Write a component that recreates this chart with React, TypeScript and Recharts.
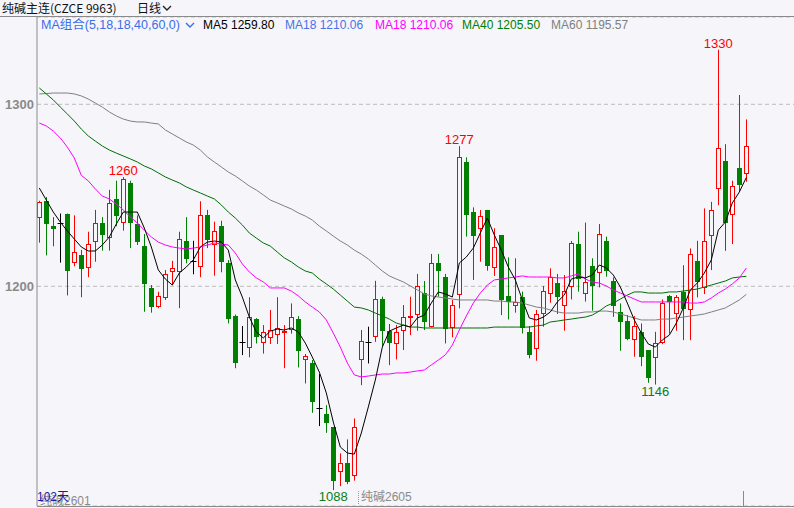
import React from "react";
import {
  ComposedChart,
  Bar,
  Line,
  XAxis,
  YAxis,
  CartesianGrid,
  ReferenceDot,
} from "recharts";

// daily candles, oldest first (102 days)
const opens = [
  1238, 1247, 1233, 1235, 1240, 1213.6, 1217, 1210.8, 1225, 1234.6,
  1227, 1248, 1235.5, 1256.6, 1234, 1222, 1199, 1189.3, 1194, 1208.6,
  1208.6, 1225, 1214, 1211.3, 1239.2, 1223.2, 1233.1, 1212.6, 1183.6, 1169.5,
  1166.4, 1182, 1169.5, 1172.3, 1173.8, 1174.7, 1176.5, 1182, 1159.8, 1157.6,
  1133, 1129.8, 1122.5, 1098.6, 1102.7, 1096.3, 1159.8, 1169.5, 1172.7, 1192.8,
  1175.6, 1168.6, 1176, 1182.9, 1184.8, 1196.1, 1178.4, 1212.6, 1205.3, 1177.8,
  1195.8, 1268.5, 1240.7, 1231.9, 1241.9, 1210.8, 1228.2, 1194.7, 1189.7, 1193.9,
  1175.1, 1165.9, 1185.5, 1196.5, 1201.6, 1189.7, 1200.2, 1223.3, 1196.5, 1211.2,
  1207.7, 1225.1, 1203, 1186, 1181.1, 1170.8, 1175, 1164.9, 1160.9, 1169.5,
  1194.6, 1185.4, 1197, 1187.8, 1214, 1199.4, 1228.1, 1253.8, 1269, 1239.7,
  1265.1, 1262,
];
const highs = [
  1247, 1249, 1238, 1240, 1240, 1239, 1220, 1230, 1242, 1238,
  1253, 1258, 1260, 1258, 1239, 1228.7, 1200.7, 1197, 1209, 1214,
  1230, 1238, 1225, 1246.7, 1242, 1235.5, 1236, 1214.4, 1184.5, 1178.2,
  1194, 1182.5, 1178.7, 1187, 1194, 1178.7, 1190.6, 1183.6, 1162.8, 1159.5,
  1151.8, 1134.7, 1122.5, 1108.2, 1115.9, 1127.4, 1176, 1177.8, 1203, 1194.3,
  1179.3, 1178.7, 1189.7, 1194.3, 1206.8, 1202.9, 1217.8, 1217.8, 1206.8, 1192.5,
  1277, 1270.9, 1243.4, 1241.9, 1242, 1231.9, 1228.2, 1215.9, 1215.4, 1197.1,
  1178.2, 1187, 1200.2, 1209.9, 1206.8, 1206.2, 1224.9, 1230, 1235, 1215.4,
  1234.2, 1227.3, 1204.9, 1190.6, 1184.2, 1183.6, 1179.6, 1164.9, 1175, 1192.8,
  1195.2, 1195.2, 1211.6, 1220.8, 1225, 1242.8, 1246.4, 1330, 1278.1, 1258,
  1305.1, 1291.7,
];
const lows = [
  1224, 1217, 1222, 1213, 1195, 1211, 1194, 1205, 1213.5, 1219.6,
  1219.6, 1233, 1230.6, 1221, 1222.7, 1186, 1185.5, 1188, 1192.5, 1200.7,
  1188, 1212.6, 1206.6, 1205, 1221, 1205.8, 1207.7, 1179.6, 1155, 1162.2,
  1161, 1168.6, 1163, 1168.3, 1168.3, 1155, 1174, 1155.4, 1146.6, 1130.5,
  1123.2, 1119.5, 1088, 1090.2, 1091.3, 1093.2, 1145.7, 1157.6, 1169.5, 1166.8,
  1156.7, 1159.8, 1165, 1173.2, 1175.6, 1176, 1177.4, 1194.3, 1168.6, 1172,
  1187.9, 1227.3, 1203.5, 1213.5, 1208.6, 1205.7, 1184.2, 1181.8, 1185.5, 1174.1,
  1160.4, 1159.1, 1177.8, 1191, 1184.8, 1175.6, 1192.8, 1197.1, 1191.6, 1186.6,
  1199.4, 1205.3, 1183.2, 1164.6, 1170.4, 1161.3, 1156.1, 1147, 1146, 1168.2,
  1174, 1175.6, 1170.4, 1170.4, 1193.9, 1195.7, 1208.9, 1244.6, 1219.5, 1223.2,
  1251.9, 1257.4,
];
const closes = [
  1246.5, 1234, 1231.7, 1235, 1208.6, 1218.7, 1209.6, 1223, 1234.6, 1228.2,
  1245.6, 1238.8, 1258.8, 1234.6, 1224.5, 1201.3, 1188.8, 1194.7, 1206.7, 1210,
  1225.8, 1214.8, 1214, 1239.2, 1225.4, 1230.6, 1213.5, 1181.8, 1157.6, 1169.5,
  1182.9, 1172.3, 1174.7, 1176, 1176.9, 1175.6, 1182.9, 1164.6, 1161.7, 1136.6,
  1133, 1124.7, 1093.2, 1102.7, 1092.6, 1122.5, 1170.1, 1169.5, 1192.8, 1175.6,
  1168.6, 1174.7, 1183.3, 1183.6, 1200, 1180.6, 1212.6, 1208.6, 1176.4, 1189.7,
  1270.9, 1239.2, 1227.6, 1238.8, 1211.2, 1221.8, 1192.5, 1191.6, 1191.6, 1176.9,
  1162.2, 1184.6, 1197.6, 1204.9, 1193.9, 1197.6, 1223.6, 1203.8, 1202.5, 1200.2,
  1228.6, 1208.4, 1189.3, 1180.5, 1170.8, 1178.1, 1161.3, 1149.4, 1168.6, 1190.6,
  1191.5, 1193.9, 1187.3, 1217.7, 1202.5, 1224.8, 1241.9, 1275.8, 1234.6, 1255.1,
  1255.6, 1277,
];

// moving averages as drawn on the chart
const ma5 = [
  1254.0, 1247.4, 1240.8, 1235.3, 1230.4, 1226.0, 1221.6, 1219.4, 1219.4, 1222.7,
  1227.1, 1234.2, 1240.8, 1240.8, 1240.8, 1232.0, 1221.6, 1209.0, 1204.0, 1200.7,
  1207.3, 1210.6, 1214.5, 1221.6, 1224.3, 1224.9, 1224.3, 1219.9, 1203.5, 1194.1,
  1183.1, 1174.9, 1171.6, 1175.4, 1176.5, 1176.0, 1177.1, 1174.9, 1168.8, 1161.1,
  1152.9, 1141.4, 1125.4, 1111.7, 1108.4, 1107.8, 1119.4, 1133.7, 1148.5, 1166.6,
  1175.4, 1177.1, 1178.7, 1177.6, 1182.6, 1184.2, 1190.8, 1196.9, 1195.8, 1194.1,
  1212.8, 1216.1, 1221.0, 1229.3, 1237.5, 1228.2, 1219.9, 1210.6, 1203.5, 1192.5,
  1182.6, 1181.5, 1183.1, 1185.9, 1191.4, 1195.2, 1204.0, 1205.1, 1204.6, 1206.2,
  1211.7, 1210.1, 1206.2, 1199.6, 1190.8, 1181.5, 1174.3, 1168.3, 1166.6, 1170.5,
  1173.2, 1179.8, 1188.1, 1198.0, 1201.8, 1207.3, 1214.5, 1230.9, 1235.3, 1245.8,
  1251.8, 1259.8,
];
const ma18 = [
  1289.7, 1288.1, 1285.3, 1281.5, 1276.5, 1270.5, 1261.0, 1257.9, 1253.5, 1249.6,
  1248.0, 1245.2, 1241.9, 1238.1, 1234.8, 1230.9, 1227.1, 1224.3, 1222.7, 1221.6,
  1221.0, 1220.5, 1221.0, 1221.6, 1222.7, 1223.8, 1223.2, 1222.7, 1218.3, 1212.3,
  1207.9, 1204.6, 1202.4, 1199.1, 1199.1, 1199.1, 1197.4, 1194.7, 1191.4, 1188.6,
  1185.9, 1181.5, 1174.3, 1166.6, 1157.9, 1151.3, 1150.2, 1150.7, 1151.3, 1151.8,
  1151.8, 1152.4, 1152.4, 1152.9, 1153.5, 1154.0, 1156.8, 1159.5, 1162.3, 1167.7,
  1176.0, 1183.7, 1190.8, 1196.3, 1200.7, 1203.5, 1204.0, 1204.6, 1205.1, 1205.7,
  1205.1, 1205.1, 1205.1, 1205.1, 1204.6, 1204.6, 1205.7, 1206.8, 1204.0, 1202.4,
  1201.8, 1200.2, 1198.0, 1196.3, 1194.7, 1193.0, 1191.4, 1191.4, 1191.4, 1191.4,
  1191.4, 1191.4, 1191.4, 1190.8, 1190.8, 1191.4, 1193.6, 1196.3, 1198.5, 1201.3,
  1204.6, 1210.06,
];
const ma40 = [
  1309.0, 1305.7, 1302.4, 1298.5, 1294.7, 1290.8, 1286.4, 1282.6, 1279.8, 1277.1,
  1274.9, 1273.2, 1271.6, 1270.0, 1268.3, 1266.1, 1264.5, 1262.3, 1260.1, 1258.4,
  1256.8, 1254.6, 1252.9, 1251.3, 1249.6, 1248.0, 1244.7, 1240.8, 1237.5, 1233.7,
  1229.3, 1226.5, 1223.8, 1222.1, 1218.8, 1215.6, 1213.4, 1210.6, 1208.4, 1207.3,
  1204.0, 1201.3, 1198.5, 1195.2, 1191.9, 1188.6, 1188.1, 1187.0, 1185.3, 1183.7,
  1182.0, 1179.8, 1178.7, 1177.6, 1177.6, 1177.1, 1177.1, 1177.1, 1177.1, 1177.1,
  1177.1, 1177.1, 1177.1, 1177.1, 1177.1, 1177.6, 1177.6, 1177.6, 1177.6, 1177.6,
  1177.6, 1178.2, 1178.7, 1180.4, 1180.9, 1181.5, 1182.0, 1182.6, 1183.1, 1184.2,
  1186.4, 1189.2, 1190.8, 1193.0, 1195.2, 1196.9, 1196.9, 1196.3, 1196.3, 1196.3,
  1196.9, 1196.9, 1197.4, 1198.0, 1198.5, 1199.6, 1200.7, 1201.8, 1202.9, 1204.6,
  1205.1, 1205.5,
];
const ma60 = [
  1305.7, 1305.9, 1306.2, 1306.2, 1306.2, 1305.7, 1304.6, 1302.9, 1300.7, 1298.5,
  1295.8, 1293.6, 1291.9, 1290.8, 1290.3, 1290.3, 1289.7, 1289.2, 1285.9, 1283.7,
  1281.5, 1279.3, 1277.6, 1274.9, 1271.1, 1268.3, 1265.6, 1262.8, 1260.6, 1257.9,
  1255.1, 1252.9, 1250.2, 1247.4, 1245.8, 1244.1, 1242.5, 1240.3, 1238.6, 1236.4,
  1233.1, 1230.4, 1227.6, 1224.9, 1222.7, 1219.9, 1217.7, 1215.0, 1211.7, 1208.4,
  1205.7, 1204.0, 1202.4, 1200.2, 1198.0, 1195.8, 1194.7, 1194.1, 1193.6, 1193.0,
  1192.5, 1192.5, 1192.5, 1192.5, 1192.5, 1191.9, 1191.9, 1191.4, 1191.4, 1190.8,
  1189.7, 1188.6, 1188.1, 1187.0, 1185.9, 1185.3, 1185.3, 1185.3, 1185.9, 1185.9,
  1186.4, 1186.4, 1185.9, 1184.8, 1183.7, 1182.6, 1181.5, 1181.5, 1181.5, 1182.0,
  1182.0, 1182.6, 1183.1, 1183.7, 1184.2, 1184.8, 1185.9, 1187.0, 1188.1, 1190.3,
  1192.5, 1195.57,
];

const priceTicks = [1200, 1300];
// [day index, value, label side]
const extremes: [number, number, "top" | "bottom"][] = [
  [12, 1260, "top"],
  [60, 1277, "top"],
  [97, 1330, "top"],
  [42, 1088, "bottom"],
  [88, 1146, "bottom"],
];

const RED = "#ff0000";
const GREEN = "#007f00";
const BG = "#f5f5fa";

const data = opens.map((open, i) => ({
  idx: i,
  open,
  high: highs[i],
  low: lows[i],
  close: closes[i],
  range: [lows[i], highs[i]],
  ma5: ma5[i],
  ma18: ma18[i],
  ma40: ma40[i],
  ma60: ma60[i],
}));

const Candle = (props: any) => {
  const { x, y, width, height, payload } = props;
  if (x == null || !payload) return null;
  const { open, close, high, low } = payload;
  const top = Math.min(y, y + height);
  const bottom = Math.max(y, y + height);
  const toY = (v: number) =>
    high === low ? top : top + ((high - v) / (high - low)) * (bottom - top);
  const cx = Math.round(x + width / 2) + 0.5;
  const yo = toY(open);
  const yc = toY(close);
  const bTop = Math.round(Math.min(yo, yc));
  const bBot = Math.round(Math.max(yo, yc));

  if (close > open) {
    return (
      <g>
        <line x1={cx} x2={cx} y1={top} y2={bTop} stroke={RED} />
        <line x1={cx} x2={cx} y1={bBot} y2={bottom} stroke={RED} />
        <rect x={cx - 2} y={bTop + 0.5} width={4} height={Math.max(bBot - bTop, 1)} fill={BG} stroke={RED} />
      </g>
    );
  }
  if (close < open) {
    return (
      <g>
        <line x1={cx} x2={cx} y1={top} y2={bottom} stroke={GREEN} />
        <rect x={cx - 2.5} y={bTop} width={5} height={Math.max(bBot - bTop, 1)} fill={GREEN} />
      </g>
    );
  }
  const yy = Math.round(yo) + 0.5;
  return (
    <g>
      <line x1={cx} x2={cx} y1={top} y2={bottom} stroke="#000" />
      <line x1={cx - 3} x2={cx + 3} y1={yy} y2={yy} stroke="#000" />
    </g>
  );
};

const Chevron = ({ left, top, color }: any) => (
  <svg style={{ position: "absolute", left, top }} width={10} height={7}>
    <polyline points="1,1 5,5 9,1" fill="none" stroke={color} strokeWidth={1.4} />
  </svg>
);

const abs = (left: number, top: number, color: string, extra: any = {}) => ({
  position: "absolute" as const,
  left,
  top,
  color,
  fontSize: 12,
  lineHeight: "14px",
  whiteSpace: "nowrap" as const,
  ...extra,
});

const titleFont = {
  fontFamily: "'Noto Sans CJK SC', sans-serif",
  fontSize: 12,
  lineHeight: "14px",
};

export default function App() {
  return (
    <div
      style={{
        position: "fixed",
        left: 0,
        top: 0,
        width: 794,
        height: 508,
        background: BG,
        overflow: "hidden",
        fontFamily: "'Liberation Sans', Arial, 'Noto Sans CJK SC', sans-serif",
      }}
    >
      <ComposedChart
        width={794}
        height={508}
        data={data}
        margin={{ top: 17, right: 0, bottom: 2, left: 0 }}
      >
        <CartesianGrid vertical={false} stroke="#bdbdbd" strokeDasharray="4 3" />
        <XAxis dataKey="idx" type="number" domain={[-0.33, 107.81]} allowDataOverflow hide />
        <YAxis
          type="number"
          domain={[1079.29, 1347.97]}
          ticks={priceTicks}
          allowDataOverflow
          interval={0}
          width={37}
          tickLine={false}
          tickSize={0}
          tickMargin={3}
          axisLine={{ stroke: "#8c8c8c" }}
          tick={{ fill: "#8a8a8a", fontSize: 13, fontWeight: "bold" }}
        />
        <Bar
          dataKey="range"
          barSize={5}
          isAnimationActive={false}
          shape={(p: any) => <Candle {...p} />}
        />
        <Line dataKey="ma60" type="linear" stroke="#808080" dot={false} strokeWidth={1} isAnimationActive={false} />
        <Line dataKey="ma40" type="linear" stroke="#006e00" dot={false} strokeWidth={1} isAnimationActive={false} />
        <Line dataKey="ma18" type="linear" stroke="#ff00ff" dot={false} strokeWidth={1} isAnimationActive={false} />
        <Line dataKey="ma5" type="linear" stroke="#000000" dot={false} strokeWidth={1} isAnimationActive={false} />
        {extremes.map(([i, v, side]) => (
          <ReferenceDot
            key={i}
            x={i}
            y={v}
            r={0}
            stroke="none"
            fill="none"
            label={{
              value: String(v),
              position: side,
              offset: 2,
              fill: side === "top" ? RED : "#0a7d20",
              fontSize: 13,
            }}
          />
        ))}
      </ComposedChart>

      {/* header */}
      <div style={{ position: "absolute", left: 0, top: 16, width: 794, height: 1, background: "#8a8a8a" }} />
      <span style={abs(2, 1, "#111", titleFont)}>纯碱主连(CZCE 9963)</span>
      <span style={abs(137, 1, "#111", titleFont)}>日线</span>
      <Chevron left={162} top={5} color="#222" />

      {/* MA legend */}
      <span style={abs(41, 18, "#3a6ee8", { fontSize: 12.5 })}>MA组合(5,18,18,40,60,0)</span>
      <Chevron left={185} top={22} color="#3a6ee8" />
      <span style={abs(203, 18, "#000")}>MA5 1259.80</span>
      <span style={abs(285, 18, "#4a72e6")}>MA18 1210.06</span>
      <span style={abs(375, 18, "#ff00ff")}>MA18 1210.06</span>
      <span style={abs(462, 18, "#008000")}>MA40 1205.50</span>
      <span style={abs(551, 18, "#808080")}>MA60 1195.57</span>

      {/* footer */}
      <div style={{ position: "absolute", left: 37, top: 506, width: 757, height: 1, background: "#8a8a8a" }} />
      <div style={{ position: "absolute", left: 743, top: 491, width: 1, height: 15, background: "#8a8a8a" }} />
      <div style={{ position: "absolute", left: 358, top: 491, width: 0, height: 13, borderLeft: "1px dotted #999" }} />
      <span style={abs(40, 494, "#8a8a8a")}>纯碱2601</span>
      <span style={abs(37, 490, "#1a1aa8")}>102天</span>
      <span style={abs(361, 490, "#8a8a8a")}>纯碱2605</span>
    </div>
  );
}
